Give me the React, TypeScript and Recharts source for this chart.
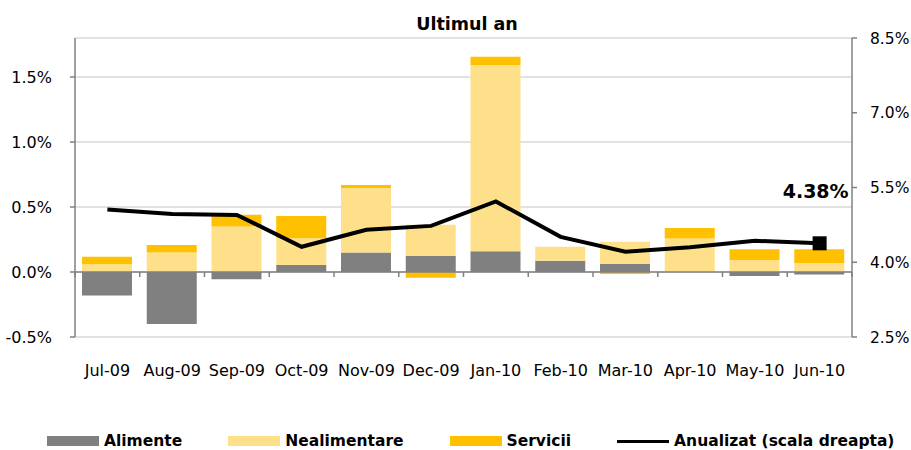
import React from 'react';
import {
    ComposedChart,
    Bar,
    Line,
    XAxis,
    YAxis,
    CartesianGrid,
    ReferenceLine,
    Legend,
} from 'recharts';

const months = ['Jul-09', 'Aug-09', 'Sep-09', 'Oct-09', 'Nov-09', 'Dec-09', 'Jan-10', 'Feb-10', 'Mar-10', 'Apr-10', 'May-10', 'Jun-10'];
const alimente = [-0.18, -0.4, -0.056, 0.054, 0.15, 0.123, 0.16, 0.087, 0.062, 0.0, -0.03, -0.02];
const nealimentare = [0.06, 0.15, 0.35, 0.206, 0.496, 0.24, 1.432, 0.108, 0.17, 0.258, 0.092, 0.07];
const servicii = [0.058, 0.057, 0.09, 0.17, 0.024, -0.044, 0.064, 0.0, -0.015, 0.08, 0.083, 0.105];
const anualizat = [5.06, 4.97, 4.95, 4.31, 4.65, 4.73, 5.22, 4.51, 4.21, 4.3, 4.43, 4.38];

const leftTicks = [-0.5, 0, 0.5, 1.0, 1.5];
const rightTicks = [2.5, 4.0, 5.5, 7.0, 8.5];

const COLORS = {
    alimente: '#808080',
    nealimentare: '#FFE08A',
    servicii: '#FFC000',
    anualizat: '#000000',
    axis: '#808080',
    grid: '#D9D9D9',
};

const FONT = '"DejaVu Sans", Verdana, sans-serif';

const chartData = months.map((m, i) => ({
    month: m,
    Alimente: alimente[i],
    Nealimentare: nealimentare[i],
    Servicii: servicii[i],
    Anualizat: anualizat[i],
}));

const legendItems = [
    { name: 'Alimente', color: COLORS.alimente, type: 'rect' },
    { name: 'Nealimentare', color: COLORS.nealimentare, type: 'rect' },
    { name: 'Servicii', color: COLORS.servicii, type: 'rect' },
    { name: 'Anualizat (scala dreapta)', color: COLORS.anualizat, type: 'line' },
];

const renderLegend = () => (
    <div style={{ height: 42, display: 'flex', alignItems: 'flex-end', paddingLeft: 47, gap: 46, fontFamily: FONT }}>
        {legendItems.map(it => (
            <div key={it.name} style={{ display: 'flex', alignItems: 'center', lineHeight: '18px' }}>
                <div style={{ width: 52, height: it.type === 'rect' ? 10 : 3, background: it.color, marginRight: 5 }} />
                <span style={{ fontWeight: 'bold', fontSize: 15.5, color: '#000' }}>{it.name}</span>
            </div>
        ))}
    </div>
);

// zero axis with small tick marks at category boundaries
const ZeroAxis = (p: any) => {
    const n = months.length;
    const marks = [];
    for (let k = 0; k <= n; k++) {
        const x = p.x1 + ((p.x2 - p.x1) * k) / n;
        marks.push(<line key={k} x1={x} x2={x} y1={p.y1} y2={p.y1 + 5} stroke={COLORS.axis} strokeWidth={1.5} />);
    }
    return (
        <g>
            <line x1={p.x1} x2={p.x2} y1={p.y1} y2={p.y2} stroke={COLORS.axis} strokeWidth={1.5} />
            {marks}
        </g>
    );
};

const LastDot = (props: any) => {
    const { cx, cy, index } = props;
    if (index !== anualizat.length - 1) return <g key={`d${index}`} />;
    return (
        <g key={`d${index}`}>
            <rect x={cx - 7} y={cy - 7} width={14} height={14} fill={COLORS.anualizat} />
            <text x={cx + 29} y={cy - 45} textAnchor="end" fontWeight="bold" fontSize={19} fill="#000" fontFamily={FONT}>
                {`${anualizat[index].toFixed(2)}%`}
            </text>
        </g>
    );
};

export default function App() {
    return (
        <div style={{ position: 'absolute', left: 0, top: 0, width: 911, height: 450, background: '#fff', fontFamily: FONT }}>
            <div style={{ position: 'absolute', left: 0, top: 13, width: 934, textAlign: 'center', fontWeight: 'bold', fontSize: 17.5, lineHeight: '22px', color: '#000' }}>
                Ultimul an
            </div>
            <ComposedChart
                width={911}
                height={450}
                data={chartData}
                stackOffset="sign"
                margin={{ top: 38, right: 0, bottom: 0, left: 0 }}
            >
                <CartesianGrid yAxisId="left" vertical={false} stroke={COLORS.grid} strokeWidth={1.5} />
                <XAxis
                    dataKey="month"
                    height={71}
                    axisLine={false}
                    tickLine={false}
                    tickMargin={22}
                    interval={0}
                    tick={{ fill: '#000', fontSize: 16, fontFamily: FONT }}
                />
                <YAxis
                    yAxisId="left"
                    width={75}
                    domain={[-0.5, 1.8]}
                    ticks={leftTicks}
                    allowDataOverflow
                    tickFormatter={(v: number) => `${v.toFixed(1)}%`}
                    axisLine={{ stroke: COLORS.axis, strokeWidth: 1.5 }}
                    tickLine={{ stroke: COLORS.axis, strokeWidth: 1.5 }}
                    tickSize={5}
                    tickMargin={18}
                    tick={{ fill: '#000', fontSize: 16, fontFamily: FONT }}
                />
                <YAxis
                    yAxisId="right"
                    orientation="right"
                    width={59}
                    domain={[2.5, 8.5]}
                    ticks={rightTicks}
                    allowDataOverflow
                    tickFormatter={(v: number) => `${v.toFixed(1)}%`}
                    axisLine={{ stroke: COLORS.axis, strokeWidth: 1.5 }}
                    tickLine={{ stroke: COLORS.axis, strokeWidth: 1.5 }}
                    tickSize={5}
                    tickMargin={13}
                    tick={{ fill: '#000', fontSize: 15.5, fontFamily: FONT }}
                />
                <Legend verticalAlign="bottom" height={42} content={renderLegend} />
                <Bar yAxisId="left" dataKey="Alimente" stackId="a" fill={COLORS.alimente} barSize={50} isAnimationActive={false} />
                <Bar yAxisId="left" dataKey="Nealimentare" stackId="a" fill={COLORS.nealimentare} barSize={50} isAnimationActive={false} />
                <Bar yAxisId="left" dataKey="Servicii" stackId="a" fill={COLORS.servicii} barSize={50} isAnimationActive={false} />
                <ReferenceLine yAxisId="left" y={0} shape={ZeroAxis} />
                <Line
                    yAxisId="right"
                    type="linear"
                    dataKey="Anualizat"
                    stroke={COLORS.anualizat}
                    strokeWidth={4}
                    dot={LastDot}
                    activeDot={false}
                    isAnimationActive={false}
                />
            </ComposedChart>
        </div>
    );
}
